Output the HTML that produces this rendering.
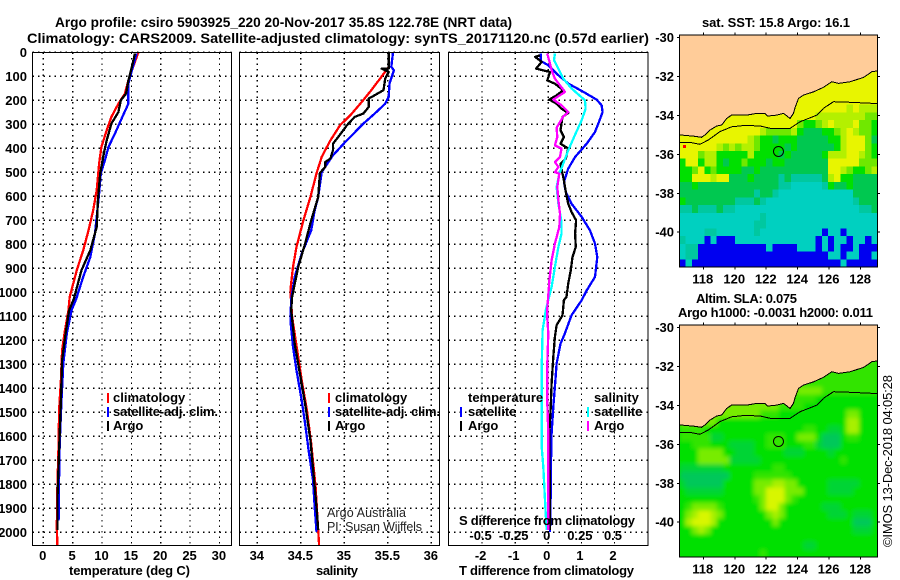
<!DOCTYPE html>
<html lang="en">
<head>
<meta charset="utf-8">
<title>Argo profile chart</title>
<style>
html,body{margin:0;padding:0;background:#fff;}
svg{display:block;}
text{font-family:"Liberation Sans",sans-serif;fill:#000;}
.b{font-size:13px;font-weight:700;}
.h{font-size:14px;font-weight:700;}
.n{font-size:13px;font-weight:400;}
.thin{font-size:12.5px;font-weight:400;fill:#222;}
</style>
</head>
<body>
<svg id="chart" xmlns="http://www.w3.org/2000/svg" width="900" height="580" viewBox="0 0 900 580">
<g id="static-labels">
<text class="h" x="55" y="27" textLength="457" lengthAdjust="spacingAndGlyphs">Argo profile: csiro 5903925_220 20-Nov-2017 35.8S 122.78E (NRT data)</text>
<text class="h" x="27" y="43" textLength="622" lengthAdjust="spacingAndGlyphs">Climatology: CARS2009. Satellite-adjusted climatology: synTS_20171120.nc (0.57d earlier)</text>
<text class="b" x="69" y="575" textLength="121" lengthAdjust="spacing">temperature (deg C)</text>
<text class="b" x="316" y="575" textLength="42" lengthAdjust="spacing">salinity</text>
<text class="b" x="459" y="575" textLength="175" lengthAdjust="spacing">T difference from climatology</text>
<text class="b" x="459" y="525" textLength="176" lengthAdjust="spacing">S difference from climatology</text>
<text class="thin" x="327" y="517" textLength="79" lengthAdjust="spacing">Argo Australia</text>
<text class="thin" x="327" y="531" textLength="95" lengthAdjust="spacing">PI: Susan Wijffels</text>
<text class="b" x="702" y="27" textLength="148" lengthAdjust="spacing">sat. SST: 15.8 Argo: 16.1</text>
<text class="b" x="696" y="303" textLength="101" lengthAdjust="spacing">Altim. SLA: 0.075</text>
<text class="b" x="678" y="317" textLength="195" lengthAdjust="spacing">Argo h1000: -0.0031 h2000: 0.011</text>
<text class="n" transform="translate(892,547) rotate(-90)" textLength="172" lengthAdjust="spacing">©IMOS 13-Dec-2018 04:05:28</text>
<g>
<line x1="108" x2="108" y1="393" y2="403" stroke="#f00" stroke-width="2"/>
<text class="b" x="113" y="402">climatology</text>
<line x1="108" x2="108" y1="407" y2="417" stroke="#00f" stroke-width="2"/>
<text class="b" x="113" y="416" textLength="105" lengthAdjust="spacing">satellite-adj. clim.</text>
<line x1="108" x2="108" y1="421" y2="431" stroke="#000" stroke-width="2"/>
<text class="b" x="113" y="430">Argo</text>
</g>
<g>
<line x1="329" x2="329" y1="393" y2="403" stroke="#f00" stroke-width="2"/>
<text class="b" x="335" y="402">climatology</text>
<line x1="329" x2="329" y1="407" y2="417" stroke="#00f" stroke-width="2"/>
<text class="b" x="335" y="416" textLength="105" lengthAdjust="spacing">satellite-adj. clim.</text>
<line x1="329" x2="329" y1="421" y2="431" stroke="#000" stroke-width="2"/>
<text class="b" x="335" y="430">Argo</text>
</g>
<g>
<text class="b" x="468" y="402">temperature</text>
<line x1="461" x2="461" y1="407" y2="417" stroke="#00f" stroke-width="2"/>
<text class="b" x="468" y="416">satellite</text>
<line x1="461" x2="461" y1="421" y2="431" stroke="#000" stroke-width="2"/>
<text class="b" x="468" y="430">Argo</text>
<text class="b" x="594" y="402">salinity</text>
<line x1="588" x2="588" y1="407" y2="417" stroke="#0ff" stroke-width="2"/>
<text class="b" x="594" y="416">satellite</text>
<line x1="588" x2="588" y1="421" y2="431" stroke="#f0f" stroke-width="2"/>
<text class="b" x="594" y="430">Argo</text>
</g>
</g>
</svg>
<script>
// ---- axis tick labels ----
const depthTicks = [0,100,200,300,400,500,600,700,800,900,1000,1100,1200,1300,1400,1500,1600,1700,1800,1900,2000];
const tempTicks = [0,5,10,15,20,25,30];
const salTicks = [34,34.5,35,35.5,36];
const salTickLabels = ['34','34.5','35','35.5','36'];
const tDiffTicks = [-2,-1,0,1,2];
const sDiffTicks = [-0.5,-0.25,0,0.25,0.5];
const sDiffTickLabels = ['-0.5','-0.25','0','0.25','0.5'];
const lonTicks = [118,120,122,124,126,128];
const latTicks = [-30,-32,-34,-36,-38,-40];

// ---- temperature profiles ----
const tempClimDepth = [0,61,117,172,214,269,325,394,464,575,658,742,825,908,1019,1075,1158,1241,1366,1491,1630,1811,1978,2054];
const tempClim = [16.2,15.3,14.5,13.9,12.8,11.6,10.8,9.9,9.5,9.1,8.5,7.7,6.8,5.7,4.5,4.3,3.7,3.2,3.0,2.7,2.6,2.4,2.3,2.4];
const tempSatDepth = [5,75,130,214,262,339,394,450,505,589,686,755,853,936,1028,1075,1172,1297,1450,1630,1769,1950];
const tempSat = [15.9,15.1,14.5,14.5,13.6,12.2,11.1,10.5,9.8,9.5,9.1,8.8,8,6.8,5.6,4.8,4.0,3.4,3.1,2.8,2.7,2.6];
const tempArgoDepth = [5,61,117,172,200,249,297,367,422,505,617,728,825,908,1028,1075,1172,1283,1450,1658,1866,1991];
const tempArgo = [15.6,15.1,14.5,14.1,13.2,12.8,11.6,10.8,10.3,9.7,9.3,9.1,8,6.5,5.2,4.4,3.8,3.2,3,2.7,2.4,2.4];

// ---- salinity profiles ----
const salClimDepth = [0,61,110,158,207,262,304,367,436,505,603,700,811,894,992,1102,1269,1366,1491,1630,1811,1991,2054];
const salClim = [35.51,35.51,35.41,35.31,35.2,35.07,34.95,34.84,34.74,34.68,34.61,34.53,34.45,34.41,34.38,34.40,34.47,34.51,34.57,34.62,34.67,34.70,34.71];
const salSatDepth = [0,61,75,130,186,214,255,297,374,429,499,603,658,742,839,936,1028,1116,1227,1325,1450,1547,1658,1783,1894,1998];
const salSat = [35.56,35.54,35.57,35.52,35.51,35.47,35.35,35.22,35.01,34.87,34.74,34.7,34.66,34.62,34.51,34.43,34.39,34.38,34.41,34.45,34.51,34.55,34.59,34.64,34.66,34.68];
const salArgoDepth = [0,47,68,68,82,110,158,193,228,255,269,304,353,381,408,443,457,478,503,603,700,797,894,1019,1075,1214,1339,1464,1616,1769,1894,1991];
const salArgo = [35.51,35.51,35.51,35.43,35.51,35.47,35.45,35.28,35.28,35.22,35.12,35.03,34.93,34.87,34.87,34.84,34.78,34.78,34.72,34.7,34.62,34.55,34.47,34.4,34.39,34.43,34.49,34.55,34.61,34.65,34.68,34.7];

// ---- difference profiles ----
const dTempSatDepth = [5,36,54,89,130,165,197,221,249,297,332,381,436,485,540,582,631,686,742,797,853,936,992,1033,1096,1172,1214,1297,1394,1477,1589,1727,1866,1998];
const dTempSat = [-0.23,-0.23,0,0.25,0.6,1.06,1.46,1.61,1.64,1.51,1.41,1.16,0.81,0.6,0.47,0.53,0.7,1.01,1.26,1.41,1.48,1.41,1.16,1.01,0.7,0.5,0.37,0.25,0.2,0.15,0.1,0.08,0.07,0.05];
const dTempArgoDepth = [13,19,40,68,82,117,131,158,179,197,214,235,253,269,325,353,381,401,443,464,506,533,582,631,665,700,756,811,853,908,964,1019,1033,1096,1137,1186,1269,1380,1491,1589,1686,1811,1991];
const dTempArgo = [-0.25,-0.40,-0.2,-0.37,0.05,-0.03,0.2,0.45,0.25,0.03,0.25,0.4,0.6,0.43,0.37,0.47,0.37,0.6,0.53,0.37,0.43,0.47,0.53,0.6,0.7,0.84,0.81,0.83,0.73,0.68,0.6,0.55,0.47,0.43,0.25,0.2,0.15,0.1,0.07,0.03,0.03,0.05,0.05];
const dSalSatDepth = [5,33,68,110,151,200,235,283,346,408,471,506,561,631,707,756,811,894,978,1072,1158,1311,1644,1727,1866,1991];
const dSalSat = [0.05,0.043,0.076,0.113,0.176,0.277,0.282,0.252,0.2,0.151,0.108,0.083,0.063,0.076,0.1,0.1,0.076,0.05,0.025,-0.018,-0.043,-0.05,-0.05,-0.038,-0.025,-0.013];
const dSalArgoDepth = [5,47,75,110,138,165,197,221,249,267,314,353,388,401,436,457,478,499,506,561,617,672,728,797,867,950,1072,1102,1172,1311,1450,1589,1991];
const dSalArgo = [-0.008,0.013,0.025,0.05,0.088,0.126,0.038,0.1,0.151,0.113,0.063,0.068,0.05,0.1,0.088,0.05,0.076,0.05,0.083,0.068,0.076,0.088,0.083,0.05,0.025,0.008,-0.008,-0.008,0,-0.008,-0.008,0,0];

// ---- map data ----
const coastLon = [116.47,117.36,117.89,118.11,118.42,118.85,119.17,119.49,119.80,120.76,121.40,121.93,122.08,122.67,123.10,123.52,123.73,123.84,124.05,124.37,125.01,125.64,126.17,126.60,127.34,128.19,128.72,129.10];
const coastLat = [-35.0,-35.06,-35.12,-35.0,-34.75,-34.54,-34.49,-34.15,-33.98,-33.98,-33.89,-33.89,-34.03,-33.98,-33.89,-34.15,-33.89,-33.58,-33.12,-32.95,-32.78,-32.55,-32.26,-32.35,-32.26,-32.04,-31.75,-31.70];
const isobathLon = [116.47,117.26,117.79,118.32,119.06,119.8,120.65,121.61,122.25,123.52,124.16,125.22,125.64,126.28,127.34,129.10];
const isobathLat = [-35.40,-35.40,-35.48,-35.26,-34.83,-34.58,-34.51,-34.54,-34.66,-34.66,-34.32,-33.98,-33.63,-33.29,-33.32,-33.39];
const floatLon = [122.78];
const floatLat = [-35.85];
const sstClasses = {y:'#e8f500',l:'#b4f000',g:'#70e800',G:'#00e000',d:'#00c850',t:'#00c8a0',c:'#00d0c0',b:'#0000f0'};
const sstRows = [
"yyyyyyyyyyyyyyyyyyyyyyyyyyyyyyyy",
"yyyyyyyyyyyyyyyyyyyyyyyyyyyyyyyy",
"yyyyyyyyyyyyyyyyyyyyyyyyyyyyyyyy",
"yyyyyyyyyyyyyyyyyyyyyyyyyyyyyyyy",
"yyyyyyyyyyyyyyyyyyyyyyyyyyyyyyyy",
"yyyyyyyyyyyyyyyyyyyyyyyyyyyyyyyy",
"yyyyyyyyyyyyyyyyyyyyyyyyyyyyyyyy",
"yyyyyyyyyyyyyyyyyyyyyyyyyyyyyyyy",
"yyyyyyyyyyyyyyyyyyyyyyyyyyyyyyyy",
"yyyyyyyyyyyyyyyyyyyyyyyyyyylylll",
"yyyyyyyyyyyyyyyyyyyyyyllllllllgg",
"yyyyyyyyyyyyyyyyyyygGGglylllyggG",
"yyyyyyyyyyyyylgggglGdddGGglylggG",
"yyyyyyyyyyylgGGdGGGdddddGGlyyygd",
"yyyyyylglgllgGGGGdGddddddGlyyygG",
"yyygllGGGGGlGGGGdGdddddGlllyylgG",
"GyyGllGdGGgGGGdGGdddddddyyyyyggg",
"GGgyGgGGGGddGdddddddddddyylgGGgl",
"GGyyylyydddGddddtdtttttdlyGGdddd",
"ddGdddddddddddddttccccctGddGdddd",
"ddddddddddddtddtccccccccccccdddd",
"Gddddddddtttdtcccccccccccccctddd",
"ttdtttdttccccccccccccccccccccttd",
"ccccccccccccctcccccccccccccccccc",
"ccccccccccccttcccccccccccccccccc",
"ccccttcccccctccccccccccbccbccccc",
"tcccbcbbbcccccccccccccbcbccbccbc",
"cttbbbbbbbbbbbcbbbbcccbcbcbbcbbb",
"cttbbbbbbbbbbbbbbbbbbbbbccbccbbc",
"bcbbbbbbbbbbbbbbbbbbbbbbbbcbbbbb"
];
const slaClasses = {'0':'#00c85a','1':'#00d436','2':'#00e000','3':'#30e400','4':'#78ec00','5':'#a8f000','6':'#d8f600'};
const slaRows = [
"33333333333333333333333333333333",
"33333333333333333333333333333333",
"33333333333333333333333333333333",
"33333333333333333333333333333333",
"33333333333333333333333333333333",
"33333333333333333333333333333333",
"33333333333333333333333333333333",
"33333333333333333333333333333333",
"33333333333333333334444333333333",
"33333333333333333333332222222222",
"44444444444444443333222222222222",
"44444444444443332222222222244222",
"44444422222222222222222222255222",
"33332222222222222222332211255222",
"33333112222222333224442000233222",
"22333222111122333222331000222222",
"22244442211122222111222212222222",
"22244444111112222222222222322222",
"11111112222222233222222222222222",
"00000000222233333322222222222222",
"10000002222244455442222211111222",
"21111112222244666444222211112222",
"22222222222234666432222222222222",
"23444432222224664222222111222222",
"24566542222222454222222211121112",
"25666522222222242222222222220002",
"22454222222222222222222222221112",
"22222222222222222222222222222222",
"22222222222222222222112222222222",
"22222222222223222222222222222222"
];

// ---- geometry and axis functions ----
const NS = 'http://www.w3.org/2000/svg';
const svg = document.getElementById('chart');
const plotTop = 52.5, plotBottom = 545.5;
const yDepth = d => 52.3 + 0.24 * d;
const xTemp = t => 43.3 + 5.87 * t;
const xSal = s => 257.3 + 87 * (s - 34);
const xDiffT = t => 548.3 + 33.1 * t;
const xDiffS = s => 548.3 + 132.4 * s;
const lonX = lon => 703.3 + 15.73 * (lon - 118);
const latYOffset = lat => 2.7 + 19.45 * (-30 - lat);

function mk(tag, attrs, parent) {
  const el = document.createElementNS(NS, tag);
  for (const k in attrs) el.setAttribute(k, attrs[k]);
  (parent || svg).appendChild(el);
  return el;
}

const panels = [
  {name:'temperature-panel', x0:32.5, x1:231.5},
  {name:'salinity-panel', x0:239.5, x1:439.5},
  {name:'difference-panel', x0:448.5, x1:648}
];
const defs = mk('defs', {});



const blur = mk('filter', {id:'soften', x:'-5%', y:'-5%', width:'110%', height:'110%'}, defs);


const blurStep = mk('feGaussianBlur', {stdDeviation:2}, blur);



function panelLayer(panel, idx, xs, fx) {
  const g = mk('g', {});
  
  
  const cp = mk('clipPath', {id:'clip' + idx}, defs);
  
  
  const cr = mk('rect', {x:panel.x0, y:plotTop, width:panel.x1 - panel.x0, height:plotBottom - plotTop}, cp);
  
  
  depthTicks.forEach(d => {
    const ln = mk('line', {x1:panel.x0, x2:panel.x1, y1:yDepth(d), y2:yDepth(d), stroke:'#000', 'stroke-width':1.2, 'stroke-dasharray':'1.3 4.2', 'shape-rendering':'crispEdges'}, g);
    
    
  });
  xs.forEach(v => {
    const ln = mk('line', {x1:fx(v), x2:fx(v), y1:plotTop, y2:plotBottom, stroke:'#000', 'stroke-width':1.2, 'stroke-dasharray':'1.3 4.2', 'shape-rendering':'crispEdges'}, g);
    
    
  });
  const series = mk('g', {'clip-path':'url(#clip' + idx + ')'}, g);
  
  
  return {g, series};
}

function drawLine(parent, name, vals, depths, fx, color, w) {
  const pts = vals.map((v, i) => fx(v).toFixed(1) + ',' + yDepth(depths[i]).toFixed(1)).join(' ');
  const pl = mk('polyline', {points:pts, fill:'none', stroke:color, 'stroke-width':w || 2.3, 'stroke-linejoin':'round', 'shape-rendering':'crispEdges'}, parent);
  
  
}

function label(txt, x, y, anchor, name, cls) {
  const t = mk('text', {x:x, y:y, 'text-anchor':anchor, class:cls || 'b'});
  t.textContent = txt;
  
  
  return t;
}

function frame(x, y, w, h, name) {
  const r = mk('rect', {x:x, y:y, width:w, height:h, fill:'none', stroke:'#000', 'stroke-width':1.3, 'shape-rendering':'crispEdges'});
  
  
}

const p1 = panelLayer(panels[0], 0, tempTicks, xTemp);
drawLine(p1.series, 'temperature-climatology-line', tempClim, tempClimDepth, xTemp, '#f00');
drawLine(p1.series, 'temperature-satellite-line', tempSat, tempSatDepth, xTemp, '#00f');
drawLine(p1.series, 'temperature-argo-line', tempArgo, tempArgoDepth, xTemp, '#000');

const p2 = panelLayer(panels[1], 1, salTicks, xSal);
drawLine(p2.series, 'salinity-climatology-line', salClim, salClimDepth, xSal, '#f00');
drawLine(p2.series, 'salinity-satellite-line', salSat, salSatDepth, xSal, '#00f');
drawLine(p2.series, 'salinity-argo-line', salArgo, salArgoDepth, xSal, '#000');

const p3 = panelLayer(panels[2], 2, tDiffTicks, xDiffT);
drawLine(p3.series, 't-diff-satellite-line', dTempSat, dTempSatDepth, xDiffT, '#00f');
drawLine(p3.series, 't-diff-argo-line', dTempArgo, dTempArgoDepth, xDiffT, '#000');
drawLine(p3.series, 's-diff-satellite-line', dSalSat, dSalSatDepth, xDiffS, '#0ff');
drawLine(p3.series, 's-diff-argo-line', dSalArgo, dSalArgoDepth, xDiffS, '#f0f');

panels.forEach(p => frame(p.x0, plotTop, p.x1 - p.x0, plotBottom - plotTop, p.name + '-frame'));

depthTicks.forEach(d => label(String(d), 27, yDepth(d) + 4.5, 'end', 'depth-tick-label'));
tempTicks.forEach(t => label(String(t), xTemp(t) - 0.5, 560, 'middle', 'temperature-tick-label'));
salTicks.forEach((s, i) => label(salTickLabels[i], xSal(s) - 0.5, 560, 'middle', 'salinity-tick-label'));
tDiffTicks.forEach(t => label(String(t), xDiffT(t) - 1.5, 560, 'middle', 't-difference-tick-label'));
sDiffTicks.forEach((s, i) => label(sDiffTickLabels[i], xDiffT(s * 4) - 1.5, 540, 'middle', 's-difference-tick-label'));

// ---- maps ----
function drawMap(top, rows, classes, name, showRed, soft) {
  const left = 679.5, right = 877.5, h = 232;
  const g = mk('g', {});
  
  
  const cp = mk('clipPath', {id:name + '-clip'}, defs);
  
  
  const cr = mk('rect', {x:left, y:top, width:right - left, height:h}, cp);
  
  
  const clipped = mk('g', {'clip-path':'url(#' + name + '-clip)'}, g);
  
  
  const base = mk('rect', {x:left, y:top, width:right - left, height:h, fill:classes[rows[rows.length - 1][0]]}, clipped);
  
  
  const cells = mk('g', soft ? {filter:'url(#soften)'} : {}, clipped);
  
  
  const latY = lat => top + latYOffset(lat);
  const cw = (right - left) / 32, ch = h / rows.length;
  rows.forEach((row, r) => {
    [...row].forEach((c, col) => {
      const cell = mk('rect', {x:left + col * cw, y:top + r * ch, width:cw + 0.5, height:ch + 0.5, fill:classes[c], 'shape-rendering':'crispEdges'}, cells);
      
      
    });
  });
  const landPts = coastLon.map((lon, i) => lonX(lon).toFixed(1) + ',' + latY(coastLat[i]).toFixed(1));
  landPts.push(right + ',' + latY(coastLat[coastLat.length - 1]).toFixed(1), right + ',' + top, left + ',' + top, left + ',' + latY(coastLat[0]).toFixed(1));
  const land = mk('polygon', {points:landPts.join(' '), fill:'#ffcc99', 'shape-rendering':'crispEdges'}, g);
  
  
  const coast = mk('polyline', {points:coastLon.map((lon, i) => lonX(lon).toFixed(1) + ',' + latY(coastLat[i]).toFixed(1)).join(' '), fill:'none', stroke:'#000', 'stroke-width':1, 'shape-rendering':'crispEdges'}, g);
  
  
  const iso = mk('polyline', {points:isobathLon.map((lon, i) => lonX(lon).toFixed(1) + ',' + latY(isobathLat[i]).toFixed(1)).join(' '), fill:'none', stroke:'#000', 'stroke-width':1, 'shape-rendering':'crispEdges'}, g);
  
  
  const marker = mk('circle', {cx:lonX(floatLon[0]), cy:latY(floatLat[0]), r:5, fill:'none', stroke:'#000', 'stroke-width':1}, g);
  
  
  if (showRed) {
    const red = mk('rect', {x:683, y:145, width:3, height:3, fill:'#f00'}, g);
    
    
  }
  frame(left, top, right - left, h, name + '-frame');
  lonTicks.forEach(lon => {
    const t1 = mk('line', {x1:lonX(lon), x2:lonX(lon), y1:top - 2.5, y2:top, stroke:'#000', 'stroke-width':1, 'shape-rendering':'crispEdges'}, g);
    
    
    const t2 = mk('line', {x1:lonX(lon), x2:lonX(lon), y1:top + h, y2:top + h + 2.5, stroke:'#000', 'stroke-width':1, 'shape-rendering':'crispEdges'}, g);
    
    
    label(String(lon), lonX(lon) - 0.5, top + h + 16.5, 'middle', 'longitude-tick-label');
  });
  latTicks.forEach(lat => {
    const y = latY(lat);
    const t1 = mk('line', {x1:left - 2.5, x2:left, y1:y, y2:y, stroke:'#000', 'stroke-width':1, 'shape-rendering':'crispEdges'}, g);
    
    
    const t2 = mk('line', {x1:right, x2:right + 2.5, y1:y, y2:y, stroke:'#000', 'stroke-width':1, 'shape-rendering':'crispEdges'}, g);
    
    
    label(String(lat), 674, y + 4.5, 'end', 'latitude-tick-label');
  });
}
drawMap(35, sstRows, sstClasses, 'sst-map', true, false);
drawMap(325, slaRows, slaClasses, 'sla-map', false, true);

// keep titles, legends and credits above the gridlines
svg.appendChild(document.getElementById('static-labels'));
</script>
</body>
</html>
